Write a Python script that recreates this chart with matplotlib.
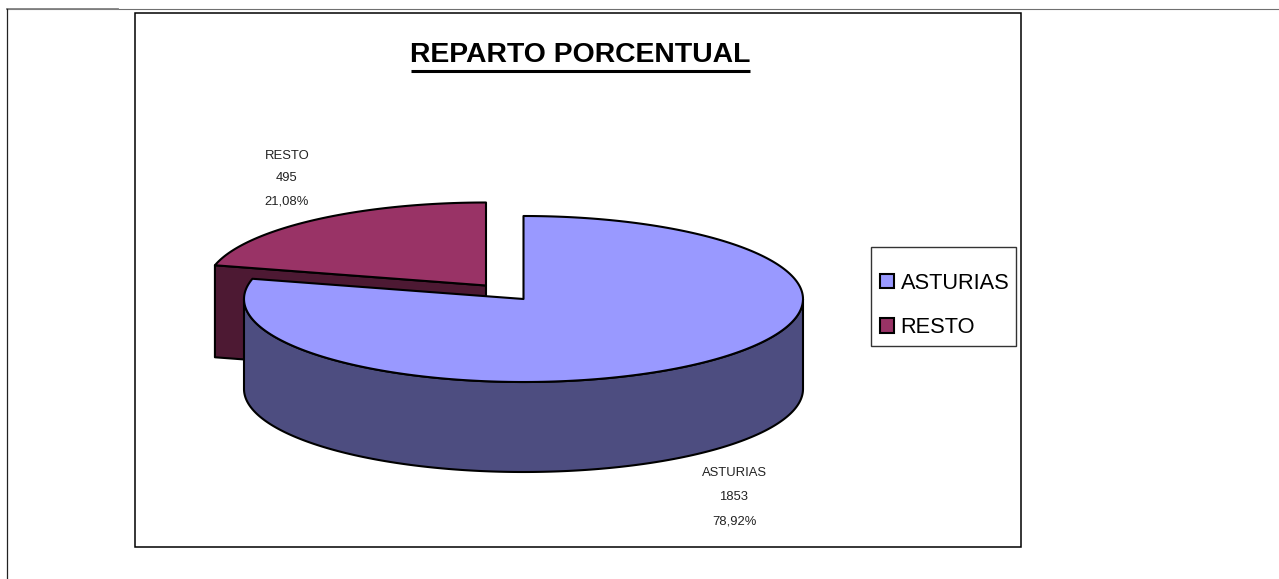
import numpy as np
import matplotlib
matplotlib.use("Agg")
import matplotlib.pyplot as plt
from matplotlib.patches import Polygon, Rectangle, Patch

# data
categories = ["ASTURIAS", "RESTO"]
values = [1853, 495]
percent_labels = ["78,92%", "21,08%"]
title_text = "REPARTO PORCENTUAL"

# styles
top_colors = ["#9999FF", "#993366"]
side_colors = ["#4D4D80", "#4D1933"]
plt.rcParams["font.family"] = ["Liberation Sans", "DejaVu Sans"]

W, H = 1279, 579
fig = plt.figure(figsize=(W / 100, H / 100), dpi=100, facecolor="white")
ax = fig.add_axes([0, 0, 1, 1])
ax.set_xlim(0, W)
ax.set_ylim(H, 0)
ax.axis("off")

# page frame
ax.plot([7, W], [8.8, 8.8], color="#707070", lw=0.8)
ax.plot([7, 118], [9.2, 9.2], color="#808080", lw=1.3)
ax.plot([7.2, 7.2], [9, H], color="#222222", lw=0.9)
ax.add_patch(Rectangle((135.2, 13), 886, 534, fc="white", ec="black", lw=1.1))

# pie geometry
a, b, depth = 279.5, 83.0, 90.0
cx, cy = 523.5, 299.0
dx, dy = -37.5, -13.5
cut_depth = depth + 2
shares = np.array(values) / sum(values)
sweep = shares * 2 * np.pi
start = np.pi / 2
split = start - sweep[0]


def arc(t0, t1, ox=cx, oy=cy):
    t = np.linspace(t0, t1, 240)
    return np.column_stack([ox + a * np.cos(t), oy - b * np.sin(t)])


edge = dict(ec="black", lw=1.5, joinstyle="round")

# second slice, pulled out: cut face then top
rx, ry = cx + dx, cy + dy
end_pt = arc(split, split, rx, ry)[0]
ax.add_patch(Polygon([end_pt, (rx, ry), (rx, ry + cut_depth), (end_pt[0], end_pt[1] + cut_depth)],
                     closed=True, fc=side_colors[1], **edge))
top2 = np.vstack([[(rx, ry)], arc(start, start + sweep[1], rx, ry)])
ax.add_patch(Polygon(top2, closed=True, fc=top_colors[1], **edge))

# first slice: wall then top
wall = arc(np.pi, 2 * np.pi)
wall_poly = np.vstack([wall, (wall + [0, depth])[::-1]])
ax.add_patch(Polygon(wall_poly, closed=True, fc=side_colors[0], **edge))
top1 = np.vstack([[(cx, cy)], arc(start, split)])
ax.add_patch(Polygon(top1, closed=True, fc=top_colors[0], **edge))

# title with underline
ax.text(580.5, 54.5, title_text, ha="center", va="center", fontsize=20.4, fontweight="bold", color="black")
ax.plot([411, 750], [70.5, 70.5], color="black", lw=2.2, solid_capstyle="butt")

# data labels
label_pos = [(734, [473, 497, 521]), (287, [156, 178, 202])]
for (x, ys), cat, v, p in zip(label_pos, categories, values, percent_labels):
    for y, s in zip(ys, [cat, str(v), p]):
        ax.text(x, y, s, ha="center", va="center", fontsize=9.4, color="#222222")

# legend
ax.add_patch(Rectangle((871, 247), 145, 99, fc="white", ec="#333333", lw=1.0, zorder=4))
handles = [Patch(fc=c, ec="black", lw=1.5) for c in top_colors]
leg = ax.legend(handles, categories, loc="upper left",
                bbox_to_anchor=(880 / W, 1 - 273 / H), bbox_transform=fig.transFigure,
                borderaxespad=0, fontsize=15.7, frameon=False,
                handlelength=0.62, handleheight=0.62,
                handletextpad=0.32, labelspacing=1.06, borderpad=0)
leg.set_zorder(5)

fig.savefig("out.png", dpi=100)
